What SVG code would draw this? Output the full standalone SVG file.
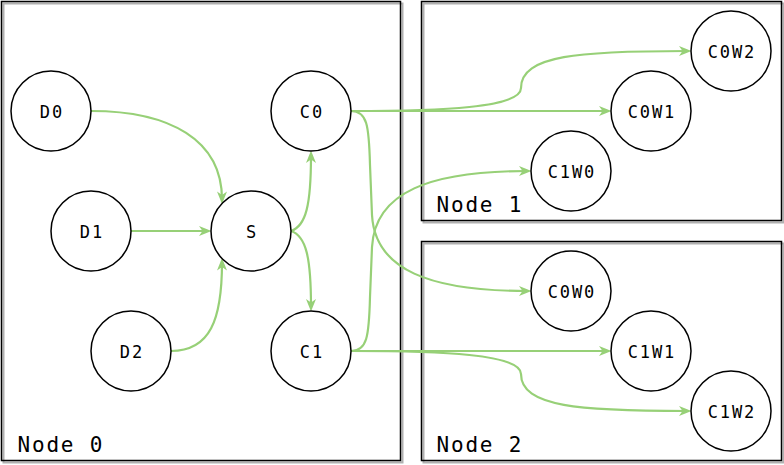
<svg xmlns="http://www.w3.org/2000/svg" width="784" height="465" viewBox="0 0 784 465">
<style>
.box{fill:none;stroke:#000;stroke-width:1.5}
.shadow{fill:none;stroke:#b0b0b0;stroke-width:2}
.nd circle{fill:#fff;stroke:#000;stroke-width:1.5}
.nd text{font-family:"DejaVu Sans Mono",monospace;font-size:17px;letter-spacing:1.9px;text-anchor:middle;fill:#000}
.lbl{font-family:"DejaVu Sans Mono",monospace;font-size:21px;letter-spacing:1.8px;fill:#000}
.edge{fill:none;stroke:#97d077;stroke-width:2.2;marker-end:url(#arr)}
</style>
<defs>
<marker id="arr" markerUnits="userSpaceOnUse" markerWidth="13" markerHeight="11" viewBox="0 0 13 11" refX="8" refY="5.5" orient="auto" overflow="visible">
<path d="M12.5,5.5 L0,0.5 L3.5,5.5 L0,10.5 Z" fill="#97d077"/>
</marker>
</defs>
<rect width="784" height="465" fill="#fff"/>
<g id="node0">
<rect class="shadow" x="3.5" y="3.5" width="399" height="459"/>
<rect class="box" x="1.5" y="1.5" width="399" height="459" fill="#fff"/>
<text class="lbl" x="17.5" y="452">Node 0</text>
</g>
<g id="node1">
<rect class="shadow" x="423.5" y="3.5" width="360" height="219"/>
<rect class="box" x="421.5" y="1.5" width="360" height="219"/>
<text class="lbl" x="436.5" y="212">Node 1</text>
</g>
<g id="node2">
<rect class="shadow" x="423.5" y="243.5" width="360" height="219"/>
<rect class="box" x="421.5" y="241.5" width="360" height="219"/>
<text class="lbl" x="436.5" y="452">Node 2</text>
</g>
<g id="connectors">
<path class="edge" d="M91,111 C170,111 222,140 222,199.5"/>
<path class="edge" d="M131,231 L207,231"/>
<path class="edge" d="M171,351 C210,351 222,320 222,262.5"/>
<path class="edge" d="M291,231 C306,226 311,205 311,155"/>
<path class="edge" d="M291,231 C306,236 311,257 311,307"/>
<path class="edge" d="M351,111 C440,111 521,108 521,88 C521,55 580,51 687,51"/>
<path class="edge" d="M351,111 L607,111"/>
<path class="edge" d="M351,111 C367,111 369,125 370,165 L372,215 C375,270 430,291 527,291"/>
<path class="edge" d="M351,351 C367,351 369,337 370,297 L372,247 C375,192 430,171 527,171"/>
<path class="edge" d="M351,351 L607,351"/>
<path class="edge" d="M351,351 C440,351 521,354 521,374 C521,407 580,411 687,411"/>
</g>
<g id="D0" class="nd"><circle cx="51" cy="111" r="40"/><text x="52" y="117.5">D0</text></g>
<g id="D1" class="nd"><circle cx="91" cy="231" r="40"/><text x="92" y="237.5">D1</text></g>
<g id="D2" class="nd"><circle cx="131" cy="351" r="40"/><text x="132" y="357.5">D2</text></g>
<g id="S" class="nd"><circle cx="251" cy="231" r="40"/><text x="252" y="237.5">S</text></g>
<g id="C0" class="nd"><circle cx="311" cy="111" r="40"/><text x="312" y="117.5">C0</text></g>
<g id="C1" class="nd"><circle cx="311" cy="351" r="40"/><text x="312" y="357.5">C1</text></g>
<g id="C0W2" class="nd"><circle cx="731" cy="51" r="40"/><text x="732" y="57.5">C0W2</text></g>
<g id="C0W1" class="nd"><circle cx="651" cy="111" r="40"/><text x="652" y="117.5">C0W1</text></g>
<g id="C1W0" class="nd"><circle cx="571" cy="171" r="40"/><text x="572" y="177.5">C1W0</text></g>
<g id="C0W0" class="nd"><circle cx="571" cy="291" r="40"/><text x="572" y="297.5">C0W0</text></g>
<g id="C1W1" class="nd"><circle cx="651" cy="351" r="40"/><text x="652" y="357.5">C1W1</text></g>
<g id="C1W2" class="nd"><circle cx="731" cy="411" r="40"/><text x="732" y="417.5">C1W2</text></g>
</svg>
